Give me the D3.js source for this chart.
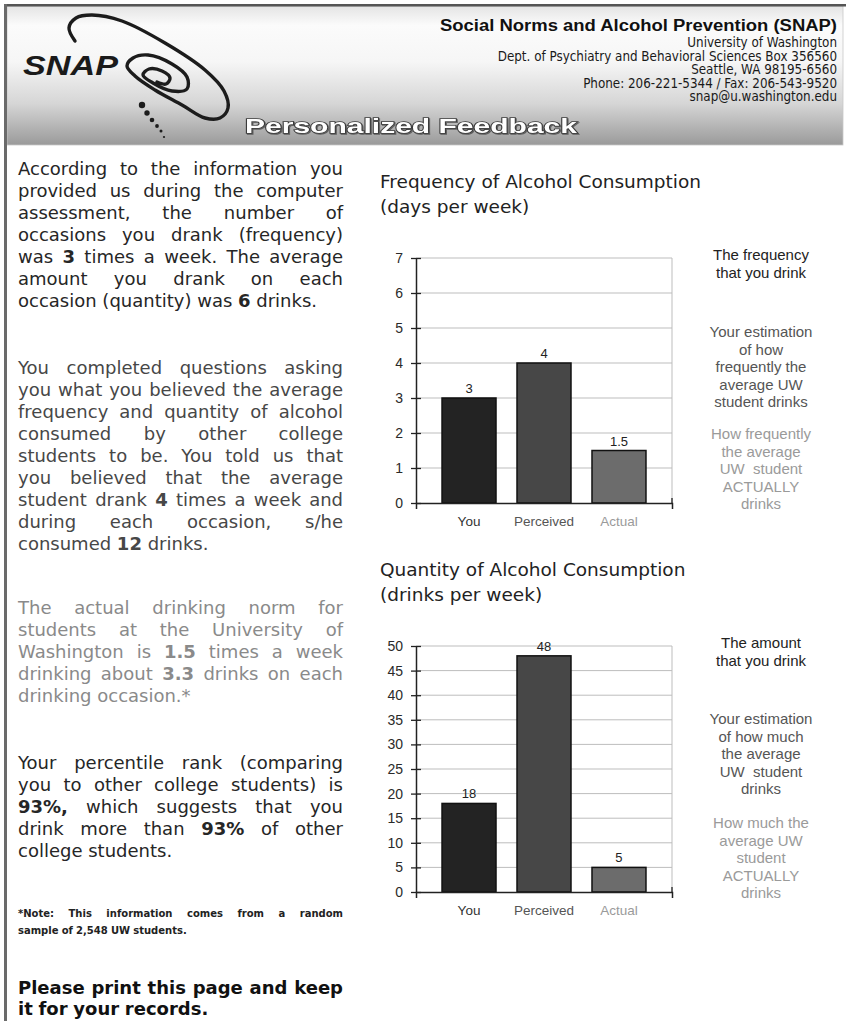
<!DOCTYPE html>
<html>
<head>
<meta charset="utf-8">
<title>SNAP Personalized Feedback</title>
<script src="https://cdn.jsdelivr.net/npm/d3@7"></script>
<style>
  html, body { margin: 0; padding: 0; background: #fff; }
  svg { display: block; }
</style>
</head>
<body>
<svg id="page" width="846" height="1021"></svg>
<script>
// ---- Data ----
const categories = ["You", "Perceived", "Actual"];
const frequencyValues = [3, 4, 1.5];          // days per week
const quantityValues = [18, 48, 5];           // drinks per week
const frequencyTicks = [0, 1, 2, 3, 4, 5, 6, 7];
const quantityTicks = [0, 5, 10, 15, 20, 25, 30, 35, 40, 45, 50];

const frequencyNotes = [
  ["The frequency", "that you drink"],
  ["Your estimation", "of how", "frequently the", "average UW", "student drinks"],
  ["How frequently", "the average", "UW  student", "ACTUALLY", "drinks"]
];
const quantityNotes = [
  ["The amount", "that you drink"],
  ["Your estimation", "of how much", "the average", "UW  student", "drinks"],
  ["How much the", "average UW", "student", "ACTUALLY", "drinks"]
];

const contactLines = [
  "University of Washington",
  "Dept. of Psychiatry and Behavioral Sciences Box 356560",
  "Seattle, WA 98195-6560",
  "Phone: 206-221-5344 / Fax: 206-543-9520",
  "snap@u.washington.edu"
];

// words starting with ^ are set in bold
const youParagraph = [
  "According to the information you",
  "provided us during the computer",
  "assessment, the number of",
  "occasions you drank (frequency)",
  "was ^3 times a week. The average",
  "amount you drank on each",
  "occasion (quantity) was ^6 drinks."
];
const perceivedParagraph = [
  "You completed questions asking",
  "you what you believed the average",
  "frequency and quantity of alcohol",
  "consumed by other college",
  "students to be. You told us that",
  "you believed that the average",
  "student drank ^4 times a week and",
  "during each occasion, s/he",
  "consumed ^12 drinks."
];
const actualParagraph = [
  "The actual drinking norm for",
  "students at the University of",
  "Washington is ^1.5 times a week",
  "drinking about ^3.3 drinks on each",
  "drinking occasion.*"
];
const rankParagraph = [
  "Your percentile rank (comparing",
  "you to other college students) is",
  "^93%, which suggests that you",
  "drink more than ^93% of other",
  "college students."
];
const noteParagraph = [
  "*Note: This information comes from a random",
  "sample of 2,548 UW students."
];
const closingParagraph = [
  "Please print this page and keep",
  "it for your records."
];

// ---- Styles ----
const BODY_FONT = "'DejaVu Sans', Verdana, sans-serif";
const CHART_FONT = "'Liberation Sans', Arial, sans-serif";
const categoryTextColors = ["#333", "#555", "#9a9a9a"];
const barFills = ["#232323", "#474747", "#6c6c6c"];
const noteColors = ["#222", "#555", "#9a9a9a"];

const svg = d3.select("#page");
const defs = svg.append("defs");

// ---- Page frame and header band ----
const grad = defs.append("linearGradient").attr("id", "headerGrad")
  .attr("x1", 0).attr("y1", 0).attr("x2", 0).attr("y2", 1);
[[0, "#e4e4e4"], [0.14, "#fbfbfb"], [0.4, "#f6f6f6"], [0.7, "#d6d6d6"], [1, "#9a9a9a"]]
  .forEach(([o, c]) => grad.append("stop").attr("offset", o).attr("stop-color", c));

const shadow = defs.append("filter").attr("id", "softShadow")
  .attr("x", "-5%").attr("y", "-20%").attr("width", "110%").attr("height", "150%");
shadow.append("feDropShadow").attr("dx", 1).attr("dy", 1).attr("stdDeviation", 0.6)
  .attr("flood-color", "#000").attr("flood-opacity", 0.45);

svg.append("rect").attr("x", 7).attr("y", 6).attr("width", 836).attr("height", 139)
  .attr("fill", "url(#headerGrad)").attr("stroke", "#c8c8c8").attr("stroke-width", 0.8);
svg.append("rect").attr("x", 4).attr("y", 4).attr("width", 842).attr("height", 2.5).attr("fill", "#555");
svg.append("rect").attr("x", 4).attr("y", 4).attr("width", 3).attr("height", 1017).attr("fill", "#6a6a6a");

// ---- Logo ----
const swirl = [[75, 41], [69, 28], [76, 18], [92, 15], [122, 21], [165, 43], [205, 70], [224, 91],
  [228, 108], [220, 118], [205, 118], [182, 105], [155, 90], [135, 76], [127, 66], [133, 58],
  [148, 55], [172, 64], [187, 77], [187, 89], [172, 91], [153, 83], [143, 75], [149, 69],
  [162, 71], [170, 78], [166, 84], [157, 82]];
svg.append("path")
  .attr("d", d3.line().curve(d3.curveCatmullRom.alpha(0.5))(swirl))
  .attr("fill", "none").attr("stroke", "#1c1c1c").attr("stroke-width", 3.4)
  .attr("stroke-linecap", "round");
const dots = [[142, 105, 3.2], [147, 113, 2.7], [152, 120, 2.3], [157, 126, 1.9], [161, 131, 1.5], [164, 137, 1.1]];
svg.selectAll("circle.dot").data(dots).join("circle").attr("class", "dot")
  .attr("cx", d => d[0]).attr("cy", d => d[1]).attr("r", d => d[2]).attr("fill", "#1c1c1c");
svg.append("text").attr("x", 23).attr("y", 75)
  .attr("textLength", 95).attr("lengthAdjust", "spacingAndGlyphs")
  .style("font-family", CHART_FONT).style("font-weight", 700).style("font-style", "italic")
  .style("font-size", "28px").attr("fill", "#1a1a1a").text("SNAP");

svg.append("text").attr("x", 245).attr("y", 133)
  .attr("textLength", 332).attr("lengthAdjust", "spacingAndGlyphs")
  .style("font-family", CHART_FONT).style("font-weight", 700).style("font-size", "21px")
  .attr("fill", "#fff").attr("stroke", "#3a3a3a").attr("stroke-width", 1.6)
  .style("paint-order", "stroke fill").attr("filter", "url(#softShadow)")
  .text("Personalized Feedback");

svg.append("text").attr("x", 440).attr("y", 31)
  .attr("textLength", 397).attr("lengthAdjust", "spacingAndGlyphs")
  .style("font-family", CHART_FONT).style("font-weight", 700).style("font-size", "16px")
  .attr("fill", "#111").text("Social Norms and Alcohol Prevention (SNAP)");
svg.selectAll("text.contact").data(contactLines).join("text").attr("class", "contact")
  .attr("x", 837).attr("y", (d, i) => 47 + i * 13.5).attr("text-anchor", "end")
  .style("font-family", "'DejaVu Sans Condensed', 'DejaVu Sans', sans-serif")
  .style("font-size", "13.3px").attr("fill", "#1a1a1a").text(d => d);

// ---- Left column text, set line by line and justified ----
function paragraph(lines, o) {
  const x0 = 18, x1 = 343;
  const g = svg.append("g").attr("fill", o.color)
    .style("font-family", BODY_FONT).style("font-size", o.size + "px")
    .style("font-weight", o.weight || 400);
  lines.forEach((line, i) => {
    const words = line.trim().split(/\s+/);
    const text = g.append("text").attr("y", o.y + i * o.lh);
    const spans = words.map(w => {
      const bold = w.startsWith("^");
      return text.append("tspan").attr("font-weight", bold ? 700 : null).text(bold ? w.slice(1) : w);
    });
    const widths = spans.map(s => s.node().getComputedTextLength());
    const total = d3.sum(widths);
    const isLast = i === lines.length - 1;
    const gap = (!isLast && words.length > 1) ? (x1 - x0 - total) / (words.length - 1) : o.size * 0.318;
    let x = x0;
    spans.forEach((s, j) => {
      s.attr("x", x);
      if (j < spans.length - 1) s.text(s.text() + " ");
      x += widths[j] + gap;
    });
  });
}
paragraph(youParagraph, { y: 175, lh: 22, size: 18, color: "#262626" });
paragraph(perceivedParagraph, { y: 374, lh: 22, size: 18, color: "#474747" });
paragraph(actualParagraph, { y: 614, lh: 22, size: 18, color: "#8a8a8a" });
paragraph(rankParagraph, { y: 769, lh: 22, size: 18, color: "#262626" });
paragraph(noteParagraph, { y: 917, lh: 17, size: 10, weight: 700, color: "#222" });
paragraph(closingParagraph, { y: 994, lh: 21, size: 18, weight: 700, color: "#111" });

// ---- Bar charts ----
function barChart(o) {
  const left = 416, right = 672;
  const g = svg.append("g");
  const x = d3.scaleBand().domain(categories).range([left, right])
    .paddingInner(0.28).paddingOuter(0.347);
  const y = d3.scaleLinear().domain([0, d3.max(o.ticks)]).range([o.bottom, o.top]);

  g.selectAll("text.title").data(o.title).join("text").attr("class", "title")
    .attr("x", 380).attr("y", (d, i) => o.top - 70 + i * 25)
    .style("font-family", BODY_FONT).style("font-size", "18.5px").attr("fill", "#222")
    .text(d => d);

  // horizontal gridlines and right frame
  g.selectAll("line.grid").data(o.ticks.filter(t => t > 0)).join("line").attr("class", "grid")
    .attr("x1", left).attr("x2", right).attr("y1", d => y(d)).attr("y2", d => y(d))
    .attr("stroke", "#bdbdbd").attr("stroke-width", 1);
  g.append("line").attr("x1", right).attr("x2", right).attr("y1", y.range()[1]).attr("y2", o.bottom)
    .attr("stroke", "#bdbdbd").attr("stroke-width", 1);

  // bars
  g.selectAll("rect.bar").data(o.values).join("rect").attr("class", "bar")
    .attr("x", (d, i) => x(categories[i])).attr("width", x.bandwidth())
    .attr("y", d => y(d)).attr("height", d => o.bottom - y(d))
    .attr("fill", (d, i) => barFills[i]).attr("stroke", "#111").attr("stroke-width", 1.5);

  g.selectAll("text.value").data(o.values).join("text").attr("class", "value")
    .attr("x", (d, i) => x(categories[i]) + x.bandwidth() / 2).attr("y", d => y(d) - 5)
    .attr("text-anchor", "middle").style("font-family", CHART_FONT).style("font-size", "13px")
    .attr("fill", "#222").text(d => d);

  // y axis with ticks crossing the axis line
  const ya = g.append("g").attr("transform", `translate(${left},0)`)
    .call(d3.axisLeft(y).tickValues(o.ticks).tickFormat(d3.format("d"))
      .tickSize(5).tickSizeOuter(0).tickPadding(8));
  ya.select(".domain").attr("stroke", "#222").attr("stroke-width", 1.5);
  ya.selectAll(".tick line").attr("x1", 5).attr("stroke", "#222").attr("stroke-width", 1.3);
  ya.selectAll(".tick text").style("font-family", CHART_FONT).style("font-size", "14px").attr("fill", "#2a2a2a");

  // x axis
  const xa = g.append("g").attr("transform", `translate(0,${o.bottom})`)
    .call(d3.axisBottom(x).tickSize(0).tickSizeOuter(6).tickPadding(13));
  xa.select(".domain").attr("stroke", "#222").attr("stroke-width", 1.5);
  xa.selectAll(".tick text").style("font-family", CHART_FONT).style("font-size", "13.5px")
    .attr("fill", (d, i) => categoryTextColors[i]);
  g.append("line").attr("x1", right).attr("x2", right).attr("y1", o.bottom - 5).attr("y2", o.bottom)
    .attr("stroke", "#222").attr("stroke-width", 1.3);

  // explanation notes beside the chart
  o.notes.forEach((block, b) => {
    g.append("g").selectAll("text").data(block).join("text")
      .attr("x", 761).attr("y", (d, i) => o.top + o.noteOffsets[b] + i * 17.6)
      .attr("text-anchor", "middle").style("white-space", "pre")
      .style("font-family", CHART_FONT).style("font-size", "15px")
      .attr("fill", noteColors[b]).text(d => d);
  });
}

barChart({
  title: ["Frequency of Alcohol Consumption", "(days per week)"],
  values: frequencyValues, ticks: frequencyTicks,
  top: 258, bottom: 503, notes: frequencyNotes, noteOffsets: [2, 79, 181]
});
barChart({
  title: ["Quantity of Alcohol Consumption", "(drinks per week)"],
  values: quantityValues, ticks: quantityTicks,
  top: 646, bottom: 892, notes: quantityNotes, noteOffsets: [2, 78, 182]
});
</script>
</body>
</html>
